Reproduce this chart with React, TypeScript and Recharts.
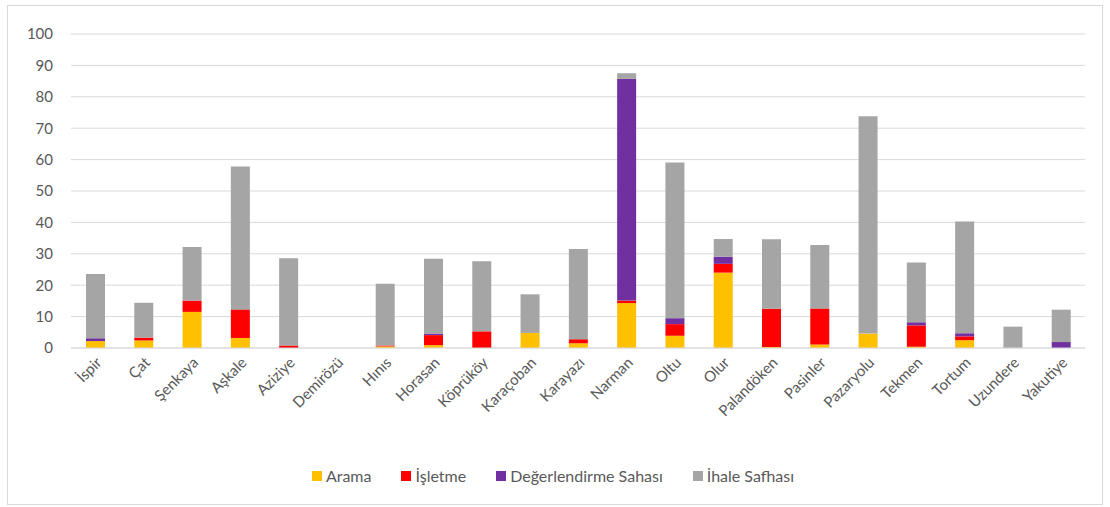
import React from "react";
import { Bar, BarChart, CartesianGrid, Legend, XAxis, YAxis } from "recharts";

const districts = [
  "İspir", "Çat", "Şenkaya", "Aşkale", "Aziziye", "Demirözü", "Hınıs", "Horasan",
  "Köprüköy", "Karaçoban", "Karayazı", "Narman", "Oltu", "Olur", "Palandöken",
  "Pasinler", "Pazaryolu", "Tekmen", "Tortum", "Uzundere", "Yakutiye",
];

const arama = [2.2, 2.4, 11.5, 3.2, 0, 0, 0.5, 0.9, 0, 4.8, 1.5, 14.3, 3.9, 24, 0.3, 1.1, 4.6, 0.4, 2.5, 0, 0];
const isletme = [0, 0.9, 3.6, 9.1, 0.8, 0, 0.3, 3.2, 5.3, 0, 1.3, 0.8, 3.7, 2.8, 12.2, 11.5, 0, 6.8, 1.2, 0, 0];
const degerlendirme = [0.9, 0, 0, 0, 0, 0, 0, 0.5, 0, 0, 0, 70.6, 1.9, 2.3, 0, 0, 0, 1.0, 1.0, 0, 1.9];
const ihale = [20.5, 11.1, 17.1, 45.5, 27.8, 0, 19.7, 23.8, 22.3, 12.3, 28.7, 1.8, 49.6, 5.6, 22.1, 20.2, 69.2, 19.0, 35.6, 6.8, 10.3];

const yTicks = [0, 10, 20, 30, 40, 50, 60, 70, 80, 90, 100];

const series = [
  { key: "arama", name: "Arama", color: "#FFC000" },
  { key: "isletme", name: "İşletme", color: "#FF0000" },
  { key: "degerlendirme", name: "Değerlendirme Sahası", color: "#7030A0" },
  { key: "ihale", name: "İhale Safhası", color: "#A5A5A5" },
];

const data = districts.map((name, i) => ({
  name,
  arama: arama[i],
  isletme: isletme[i],
  degerlendirme: degerlendirme[i],
  ihale: ihale[i],
}));

const FONT = "Lato, 'Liberation Sans', sans-serif";
const TEXT = "#595959";

function LegendRow() {
  return (
    <div style={{ display: "flex", justifyContent: "center", gap: 30, fontFamily: FONT, fontSize: 16, color: TEXT }}>
      {series.map((s) => (
        <div key={s.key} style={{ display: "flex", alignItems: "center", gap: 4 }}>
          <span style={{ display: "inline-block", width: 10, height: 10, background: s.color }} />
          <span>{s.name}</span>
        </div>
      ))}
    </div>
  );
}

export default function App() {
  return (
    <div style={{ position: "absolute", left: 0, top: 0, width: 1110, height: 507, background: "#fff" }}>
      <div style={{ position: "absolute", left: 7, top: 5, width: 1096, height: 500, border: "1px solid #d9d9d9", boxSizing: "border-box" }} />
      <BarChart
        width={1110}
        height={507}
        data={data}
        margin={{ top: 34, right: 25, bottom: 17, left: 21 }}
        barSize={19}
      >
        <CartesianGrid stroke="#d9d9d9" vertical={false} />
        <XAxis
          dataKey="name"
          interval={0}
          angle={-45}
          textAnchor="end"
          height={118}
          tickLine={false}
          axisLine={{ stroke: "#d9d9d9" }}
          tick={{ fill: TEXT, fontSize: 15, fontFamily: FONT }}
        />
        <YAxis
          domain={[0, 100]}
          ticks={yTicks}
          width={50}
          tickLine={false}
          axisLine={false}
          tickMargin={12}
          tick={{ fill: TEXT, fontSize: 15, fontFamily: FONT }}
        />
        <Legend verticalAlign="bottom" height={24} content={() => <LegendRow />} />
        {series.map((s) => (
          <Bar key={s.key} dataKey={s.key} name={s.name} stackId="a" fill={s.color} isAnimationActive={false} />
        ))}
      </BarChart>
    </div>
  );
}
